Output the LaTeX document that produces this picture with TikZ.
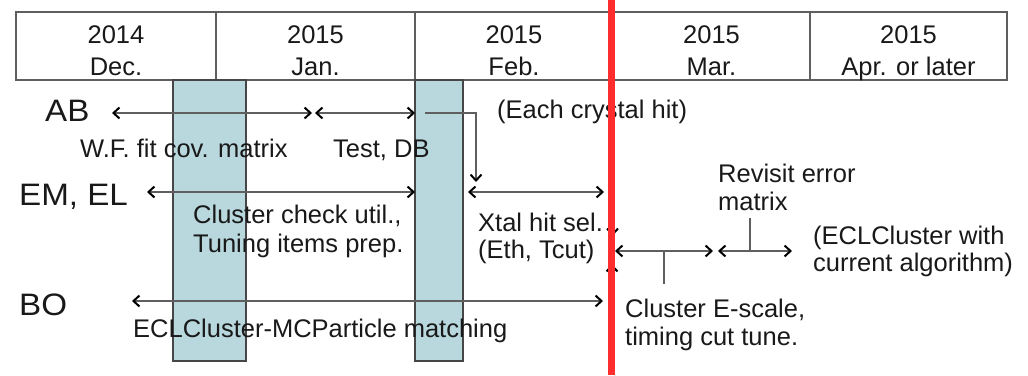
\documentclass[tikz,border=0pt]{standalone}
\usepackage{fontspec}
\setmainfont{Liberation Sans}
\newfontfamily\rowfont[FakeStretch=1.07]{Liberation Sans}
\usetikzlibrary{arrows.meta}
\definecolor{band}{RGB}{184,216,222}
\definecolor{rule}{RGB}{95,95,95}
\definecolor{edge}{RGB}{70,70,70}
\definecolor{ink}{RGB}{25,25,25}
\definecolor{marker}{RGB}{255,45,45}

\begin{document}
\begin{tikzpicture}[x=1pt,y=-1pt,
  lbl/.style={inner sep=0pt, anchor=base west, text=ink, font=\fontsize{25.5}{28}\selectfont},
  rowlbl/.style={lbl, font=\rowfont\fontsize{31}{36}\selectfont},
  hdr/.style={inner sep=0pt, anchor=base, text=ink, font=\fontsize{25.5}{28}\selectfont},
  >={Straight Barb[length=6pt,width=11pt,line width=2pt,color=black]},
  span/.style={draw=rule, line width=1.3pt},
  slot/.style={fill=band, draw=edge, line width=1.4pt},
  cell/.style={draw=rule, line width=1.5pt}
]
\useasboundingbox (0,0) rectangle (1028,375);

% month header
\draw[cell] (16,12) rectangle (1007,80);
\foreach \xd in {216,415,613,810} \draw[cell] (\xd,12) -- (\xd,80);
\node[hdr] (y1) at (116,43) {2014};   \node[hdr] (m1) at (116,75) {Dec.};
\node[hdr] (y2) at (315.5,43) {2015}; \node[hdr] (m2) at (315.5,75) {Jan.};
\node[hdr] (y3) at (514,43) {2015};   \node[hdr] (m3) at (514,75) {Feb.};
\node[hdr] (y4) at (711.5,43) {2015}; \node[hdr] (m4) at (711.5,75) {Mar.};
\node[hdr] (y5) at (908.5,43) {2015}; \node[hdr] (m5) at (908.5,75) {Apr. or later};

% shaded periods
\draw[slot] (173,80) rectangle (246,361);
\draw[slot] (415,80) rectangle (463,361);

% row labels
\node[rowlbl] (ab) at (45,121) {AB};
\node[rowlbl] (em) at (19,205) {EM, EL};
\node[rowlbl] (bo) at (19,315) {BO};

% end points of the task spans
\coordinate (ab1) at (112,113); \coordinate (ab2) at (312,113);
\coordinate (ab3) at (315,113); \coordinate (ab4) at (415,113);
\coordinate (ab5) at (425,113); \coordinate (ab6) at (476,182);
\coordinate (em1) at (147,192); \coordinate (em2) at (415,192);
\coordinate (em3) at (468,192); \coordinate (em4) at (604,192);
\coordinate (em5) at (612.5,196); \coordinate (em6) at (612.5,236);
\coordinate (bo1) at (132,301); \coordinate (bo2) at (603,301);
\coordinate (bo3) at (612,297); \coordinate (bo4) at (612,264);
\coordinate (cl1) at (615,251); \coordinate (cl2) at (713,251);
\coordinate (cl3) at (718,251); \coordinate (cl4) at (792,251);
\coordinate (tk1) at (664,251); \coordinate (tk2) at (664,284);
\coordinate (tk3) at (750,218); \coordinate (tk4) at (750,251);

% AB
\draw[span,<->] (ab1) -- (ab2);
\draw[span,<->] (ab3) -- (ab4);
\draw[span,->] (ab5) -| (ab6);
\node[lbl] (wf) at (80,157) {W.F. fit cov. matrix};
\node[lbl] (tdb) at (333,157) {Test, DB};
\node[lbl] (each) at (497,118) {(Each crystal hit)};

% EM, EL
\draw[span,<->] (em1) -- (em2);
\draw[span,<->] (em3) -- (em4);
\draw[span,->] (em5) -- (em6);
\node[lbl] (cc1) at (193,223) {Cluster check util.,};
\node[lbl] (cc2) at (193,252) {Tuning items prep.};
\node[lbl] (xt1) at (478,231) {Xtal hit sel.};
\node[lbl] (xt2) at (478,258) {(Eth, Tcut)};

% BO
\draw[span,<->] (bo1) -- (bo2);
\draw[span,->] (bo3) -- (bo4);
\node[lbl] (mc) at (133,337) {ECLCluster-MCParticle matching};

% March onwards
\draw[span,<->] (cl1) -- (cl2);
\draw[span,<->] (cl3) -- (cl4);
\draw[span] (tk1) -- (tk2);
\draw[span] (tk3) -- (tk4);
\node[lbl] (rv1) at (718,182) {Revisit error};
\node[lbl] (rv2) at (718,210) {matrix};
\node[lbl] (ec1) at (813,244) {(ECLCluster with};
\node[lbl] (ec2) at (813,271) {current algorithm)};
\node[lbl] (es1) at (625,317) {Cluster E-scale,};
\node[lbl] (es2) at (625,345) {timing cut tune.};

% current date marker
\coordinate (now1) at (611.7,0); \coordinate (now2) at (611.7,375);
\draw[marker, line width=6.5pt] (now1) -- (now2);
\end{tikzpicture}
\end{document}
